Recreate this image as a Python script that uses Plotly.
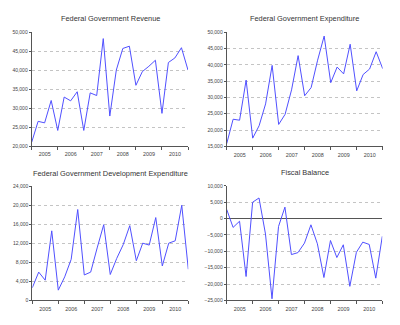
import plotly.graph_objects as go
import pandas as pd

quarters = [str(p.start_time.date()) for p in pd.period_range("2005Q1", "2011Q1", freq="Q")]

revenue = [21000, 26500, 26100, 32000, 24100, 32900, 31900, 34300, 24100, 34000,
           33300, 48300, 27900, 40000, 45700, 46300, 36000, 39600, 41000, 42600,
           28600, 42000, 43200, 45900, 40000]
expenditure = [15800, 23300, 23000, 35300, 17500, 21300, 28000, 39800, 21700, 24800,
               32300, 42800, 30500, 33000, 41400, 48800, 34500, 39300, 37200, 46300,
               32000, 37000, 38700, 44000, 38800]
dev_expenditure = [2600, 5900, 4200, 14600, 2100, 4900, 8600, 19100, 5300, 5900,
                   11000, 15900, 5400, 8800, 11700, 15700, 8300, 12000, 11600, 17400,
                   7200, 12000, 12500, 20000, 6500]
fiscal_balance = [2800, -2700, -800, -17700, 5000, 6300, -4700, -24500, -2400, 3500,
                  -11000, -10400, -7500, -1900, -7700, -18000, -6700, -11900, -8000, -20700,
                  -10300, -7200, -7900, -18200, -5400]

titles = ["Federal Government Revenue", "Federal Government Expenditure",
          "Federal Government Development Expenditure", "Fiscal Balance"]
series = [revenue, expenditure, dev_expenditure, fiscal_balance]
y_ranges = [(20000, 50000, 5000), (15000, 50000, 5000), (0, 24000, 4000), (-25000, 10000, 5000)]

W, H = 400, 325
# pixel boxes: (left, right, top, bottom)
boxes = [(31.7, 188.0, 29.7, 145.7), (226.7, 382.7, 29.7, 146.0),
         (32.3, 188.3, 186.7, 302.7), (226.7, 382.3, 186.3, 303.0)]
title_pos = [(110, 16), (304, 16), (110, 174), (305, 173)]

fig = go.Figure()
LINE = "#5050ff"
FONT = "Liberation Sans, Arial, sans-serif"

for i, (ys, box, yr) in enumerate(zip(series, boxes, y_ranges)):
    n = "" if i == 0 else str(i + 1)
    fig.add_trace(go.Scatter(x=quarters, y=ys, mode="lines",
                             line=dict(color=LINE, width=1),
                             xaxis="x" + n, yaxis="y" + n, showlegend=False,
                             hoverinfo="skip"))
    l, r, t, b = box
    lo, hi, step = yr
    tv = list(range(lo, hi + 1, step))
    fig.update_layout(**{
        "xaxis" + n: dict(
            domain=[l / W, r / W], anchor="y" + n, type="date",
            range=[quarters[0], quarters[-1]],
            dtick="M12", tick0="2005-01-01", ticklabelmode="period",
            tickformat="%Y", ticks="outside", ticklen=3, tickcolor="#555",
            showline=True, linecolor="#555", linewidth=1, showgrid=False,
            zeroline=False, tickfont=dict(size=5.4, color="#444", family=FONT),
        ),
        "yaxis" + n: dict(
            domain=[1 - b / H, 1 - t / H], anchor="x" + n,
            range=[lo, hi], tickvals=tv, tickformat=",d",
            ticks="outside", ticklen=2, tickcolor="#555",
            showline=True, linecolor="#555", linewidth=1,
            showgrid=True, gridcolor="#c4c4c4", griddash="dot", gridwidth=1,
            zeroline=(i == 3), zerolinecolor="#555", zerolinewidth=1,
            tickfont=dict(size=5, color="#444", family=FONT),
        ),
    })
    fig.add_annotation(text=titles[i], x=title_pos[i][0] / W, y=1 - title_pos[i][1] / H,
                       xref="paper", yref="paper", showarrow=False,
                       xanchor="center", yanchor="middle",
                       font=dict(size=7.4, color="#333", family=FONT))

fig.update_layout(width=W, height=H, margin=dict(l=0, r=0, t=0, b=0),
                  paper_bgcolor="white", plot_bgcolor="white")
fig.write_html("out.html")
